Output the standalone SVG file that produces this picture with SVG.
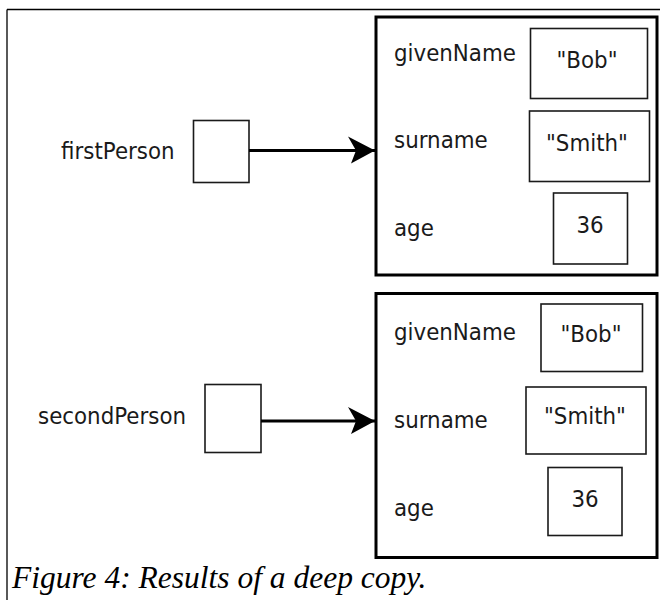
<svg xmlns="http://www.w3.org/2000/svg" width="660" height="600" viewBox="0 0 660 600">
<style>
.t{font-family:"DejaVu Sans",Verdana,sans-serif;font-size:23.5px;fill:#1a1a1a}
.c{text-anchor:middle}
.b{fill:#fff;stroke:#1a1a1a;stroke-width:1.6}
.o{fill:#fff;stroke:#000;stroke-width:3}
.cap{font-family:"Liberation Serif","Times New Roman",serif;font-style:italic;font-size:31.5px;fill:#000}
.ln{stroke:#000;stroke-width:3;fill:none}
</style>
<defs>
<marker id="ah" markerUnits="userSpaceOnUse" markerWidth="32" markerHeight="32" viewBox="-30 -16 32 32" refX="0" refY="0" orient="auto">
<path d="M0,0 L-27,-14 L-19,0 L-24,13 Z" fill="#000"/>
</marker>
</defs>
<rect width="660" height="600" fill="#fff"/>
<g id="frame">
<path d="M7,9.5 H660 M7,9.5 V600" stroke="#000" stroke-width="1.3" fill="none"/>
</g>
<g id="firstPerson">
<text class="t" transform="translate(61,159) scale(0.91,1)">firstPerson</text>
<rect class="b" x="193.5" y="120.5" width="55.5" height="62"/>
</g>
<g id="object1">
<rect class="o" x="376" y="17" width="281" height="258"/>
<text class="t" transform="translate(394,61) scale(0.91,1)">givenName</text>
<text class="t" transform="translate(394,148) scale(0.91,1)">surname</text>
<text class="t" transform="translate(394,236) scale(0.91,1)">age</text>
<rect class="b" x="530.5" y="28.5" width="117" height="70"/>
<text class="t c" transform="translate(587,68) scale(0.91,1)">"Bob"</text>
<rect class="b" x="529.5" y="111" width="120" height="70.5"/>
<text class="t c" transform="translate(587,151) scale(0.91,1)">"Smith"</text>
<rect class="b" x="553.5" y="193" width="74" height="71"/>
<text class="t c" transform="translate(590,233) scale(0.91,1)">36</text>
</g>
<g id="secondPerson">
<text class="t" transform="translate(38,424) scale(0.91,1)">secondPerson</text>
<rect class="b" x="205" y="384.5" width="56" height="68"/>
</g>
<g id="object2">
<rect class="o" x="376" y="293.5" width="281" height="264"/>
<text class="t" transform="translate(394,340) scale(0.91,1)">givenName</text>
<text class="t" transform="translate(394,428) scale(0.91,1)">surname</text>
<text class="t" transform="translate(394,516) scale(0.91,1)">age</text>
<rect class="b" x="541" y="304" width="101.5" height="67.5"/>
<text class="t c" transform="translate(591,342) scale(0.91,1)">"Bob"</text>
<rect class="b" x="526" y="387" width="120" height="67"/>
<text class="t c" transform="translate(585,424) scale(0.91,1)">"Smith"</text>
<rect class="b" x="548" y="467.5" width="74" height="68"/>
<text class="t c" transform="translate(585,507) scale(0.91,1)">36</text>
</g>
<g id="connectors">
<line class="ln" x1="249" y1="150.5" x2="375" y2="150.5" marker-end="url(#ah)"/>
<line class="ln" x1="261" y1="421" x2="375" y2="421" marker-end="url(#ah)"/>
</g>
<text class="cap" x="12" y="588">Figure 4: Results of a deep copy.</text>
</svg>
